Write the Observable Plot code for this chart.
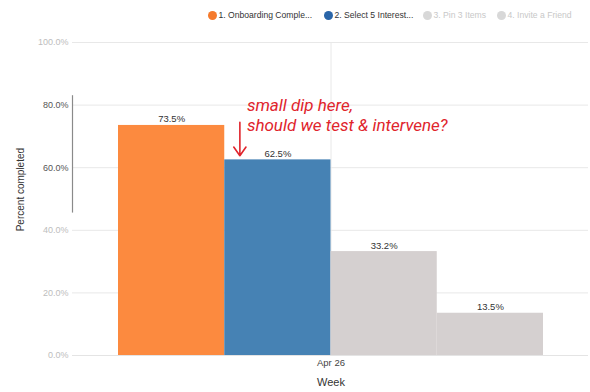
<!DOCTYPE html>
<html>
<head>
<meta charset="utf-8">
<script src="https://cdn.jsdelivr.net/npm/d3@7"></script>
<script src="https://cdn.jsdelivr.net/npm/@observablehq/plot@0.6"></script>
<style>
  html, body { margin: 0; padding: 0; background: #fff; }
  #wrap { position: relative; width: 590px; height: 392px; overflow: hidden; font-family: "Liberation Sans", Arial, sans-serif; }
  #legend { position: absolute; top: 10px; left: 0; width: 590px; height: 12px; font-size: 8.6px; white-space: nowrap; }
  #legend .item { position: absolute; top: 0; display: flex; align-items: center; }
  #legend .dot { width: 9px; height: 9px; border-radius: 50%; margin-right: 1.5px; }
  #chart svg { display: block; }
</style>
</head>
<body>
<div id="wrap">
  <div id="chart"></div>
  <div id="legend"></div>
</div>
<script>
const series = ["1. Onboarding Completed", "2. Select 5 Interests", "3. Pin 3 Items", "4. Invite a Friend"];
const legendLabels = ["1. Onboarding Comple...", "2. Select 5 Interest...", "3. Pin 3 Items", "4. Invite a Friend"];
const legendLefts = [208, 324, 423, 497];
const values = [73.5, 62.5, 33.2, 13.5];
const colors = ["#fc8a3f", "#4682b4", "#d5d0d0", "#d5d0d0"];
const legendDotColors = ["#f57a2c", "#2a65a8", "#d8d8d8", "#d8d8d8"];
const legendTextColors = ["#333", "#333", "#c8c8c8", "#c8c8c8"];
const weekLabels = ["Apr 26"];
const yTicks = [0, 20, 40, 60, 80, 100];
const annotationLines = ["small dip here,", "should we test & intervene?"];
const annotationY = 77;
const arrowFrom = 74.5;
const arrowTo = 63.8;

const data = series.map((s, i) => ({series: s, i, value: values[i], color: colors[i]}));

const fmt = d => d.toFixed(1) + "%";

const chart = Plot.plot({
  width: 590,
  height: 392,
  marginLeft: 72,
  marginRight: 2,
  marginTop: 42,
  marginBottom: 37,
  style: {fontFamily: "Liberation Sans, Arial, sans-serif", background: "#fff"},
  x: {type: "linear", domain: [0, 4], insetLeft: 46, insetRight: 45, axis: null},
  y: {domain: [0, 100], axis: null},
  marks: [
    Plot.ruleY(yTicks, {stroke: "#e8e8e8", strokeWidth: 1}),
    Plot.ruleX([2], {stroke: "#e8e8e8", strokeWidth: 1}),
    Plot.rectY(data, {x1: "i", x2: d => d.i + 1, y: "value", fill: "color"}),
    Plot.ruleY([0], {stroke: "#e4e4e4"}),
    Plot.text(data, {x: d => d.i + 0.5, y: "value", text: d => fmt(d.value), dy: -6, fontSize: 9.5, fill: "#333"}),
    // y tick labels
    Plot.text(yTicks, {frameAnchor: "left", y: d => d, text: d => fmt(d), textAnchor: "end", dx: -4, fontSize: 9,
      fill: d => (d === 60 || d === 80) ? "#555" : "#bdbdbd"}),
    // x tick label and axis titles
    Plot.text(weekLabels, {x: 2, frameAnchor: "bottom", text: d => d, dy: 10, fontSize: 9.5, fill: "#444"}),
    Plot.text(["Week"], {x: 2, frameAnchor: "bottom", text: d => d, dy: 30, fontSize: 11, fill: "#333"}),
    Plot.text(["Percent completed"], {frameAnchor: "left", y: 53, text: d => d, textAnchor: "middle", rotate: -90,
      dx: -52, fontSize: 10, fill: "#333"}),
    // stray dark segment on the left edge
    Plot.ruleX([0], {y1: 83, y2: 45.5, dx: -46, stroke: "#8a8a8a", strokeWidth: 1.2}),
    // annotation
    Plot.text([annotationLines.join("\n")], {x: 1.5, y: annotationY, text: d => d, textAnchor: "start", dx: -31,
      fontSize: 17, fontStyle: "italic", fontFamily: "Roboto, sans-serif", fill: "#e0242c", lineHeight: 1.2}),
    Plot.arrow([{y1: arrowFrom, y2: arrowTo}], {x1: 1.5, x2: 1.5, y1: "y1", y2: "y2", dx: -38, stroke: "#e0242c",
      strokeWidth: 1.6, headLength: 10, headAngle: 70})
  ]
});
document.getElementById("chart").appendChild(chart);

const legend = document.getElementById("legend");
legendLabels.forEach((l, i) => {
  const it = document.createElement("div");
  it.className = "item";
  it.style.left = legendLefts[i] + "px";
  const dot = document.createElement("span");
  dot.className = "dot";
  dot.style.background = legendDotColors[i];
  const t = document.createElement("span");
  t.textContent = l;
  t.style.color = legendTextColors[i];
  it.appendChild(dot); it.appendChild(t);
  legend.appendChild(it);
});
</script>
</body>
</html>
